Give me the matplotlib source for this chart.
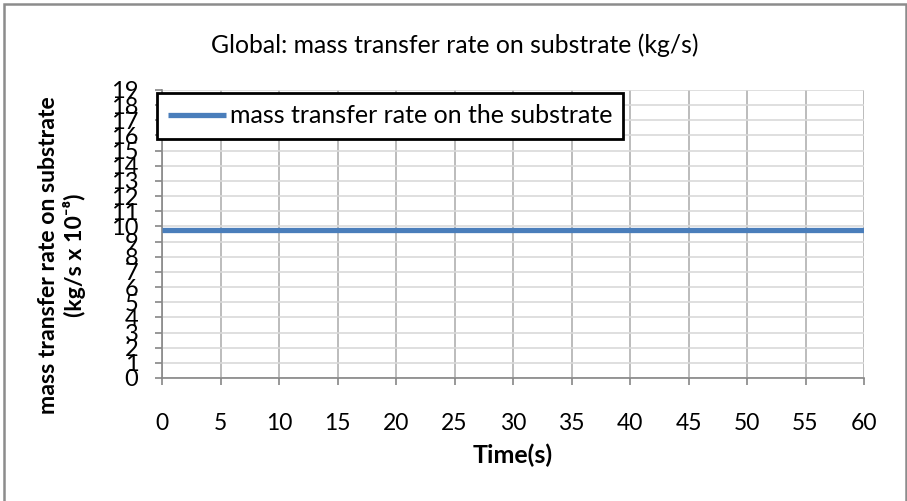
import matplotlib
matplotlib.use("Agg")
import matplotlib.pyplot as plt
from matplotlib.patches import Rectangle

plt.rcParams['font.family'] = ['Lato', 'DejaVu Sans']

# series data
time_s = [0, 5, 10, 15, 20, 25, 30, 35, 40, 45, 50, 55, 60]
rate = [9.77, 9.77, 9.77, 9.77, 9.77, 9.77, 9.77, 9.77, 9.77, 9.77, 9.77, 9.77, 9.77]
x_ticks = list(range(0, 61, 5))
y_ticks = list(range(0, 20))

W, H = 907, 501
fig = plt.figure(figsize=(W / 100, H / 100), dpi=100)
ax = fig.add_axes([162 / W, 1 - 378 / H, (864 - 162) / W, (378 - 90) / H])

ax.plot(time_s, rate, color='#4a7ebb', lw=3.8, solid_capstyle='butt',
        label='mass transfer rate on the substrate', zorder=3)

ax.set_xlim(0, 60)
ax.set_ylim(0, 19)
ax.set_xticks(x_ticks)
ax.set_yticks(y_ticks)
ax.tick_params(axis='both', color='#868686', length=5, width=1.2)
ax.tick_params(axis='x', labelsize=16.5, pad=20)
ax.tick_params(axis='y', labelsize=17, pad=12)

ax.xaxis.grid(True, color='#b0b0b0', lw=1.2)
ax.yaxis.grid(True, color='#d9d9d9', lw=1.2)
ax.set_axisbelow(True)
for side in ('top', 'right'):
    ax.spines[side].set_visible(False)
for side in ('left', 'bottom'):
    ax.spines[side].set_color('#868686')
    ax.spines[side].set_linewidth(1.2)

fig.text(455 / W, 1 - 45 / H, 'Global: mass transfer rate on substrate (kg/s)',
         ha='center', va='center', fontsize=17.8)
fig.text(513 / W, 1 - 455 / H, 'Time(s)', ha='center', va='center',
         fontsize=18, fontweight='bold')
fig.text(62 / W, 1 - 255 / H,
         'mass transfer rate on substrate\n(kg/s x 10\u207b\u2078)',
         ha='center', va='center', rotation=90, fontsize=16.6,
         fontweight='bold', linespacing=1.25)

leg = ax.legend(loc='upper left', bbox_to_anchor=((157 - 162) / (864 - 162), 1 - 3 / 288),
                fontsize=18, frameon=True, fancybox=False, handlelength=2.3,
                handletextpad=0.15, borderpad=0.45, borderaxespad=0)
leg.get_frame().set_edgecolor('black')
leg.get_frame().set_linewidth(2)
leg.get_frame().set_alpha(1)

# outer chart frame
fig.patches.append(Rectangle((4 / W, -0.02), 902 / W, 1 - 4 / H + 0.02,
                             transform=fig.transFigure, fill=False,
                             edgecolor='#8c8c8c', lw=1.8))

fig.savefig('out.png', dpi=100)
